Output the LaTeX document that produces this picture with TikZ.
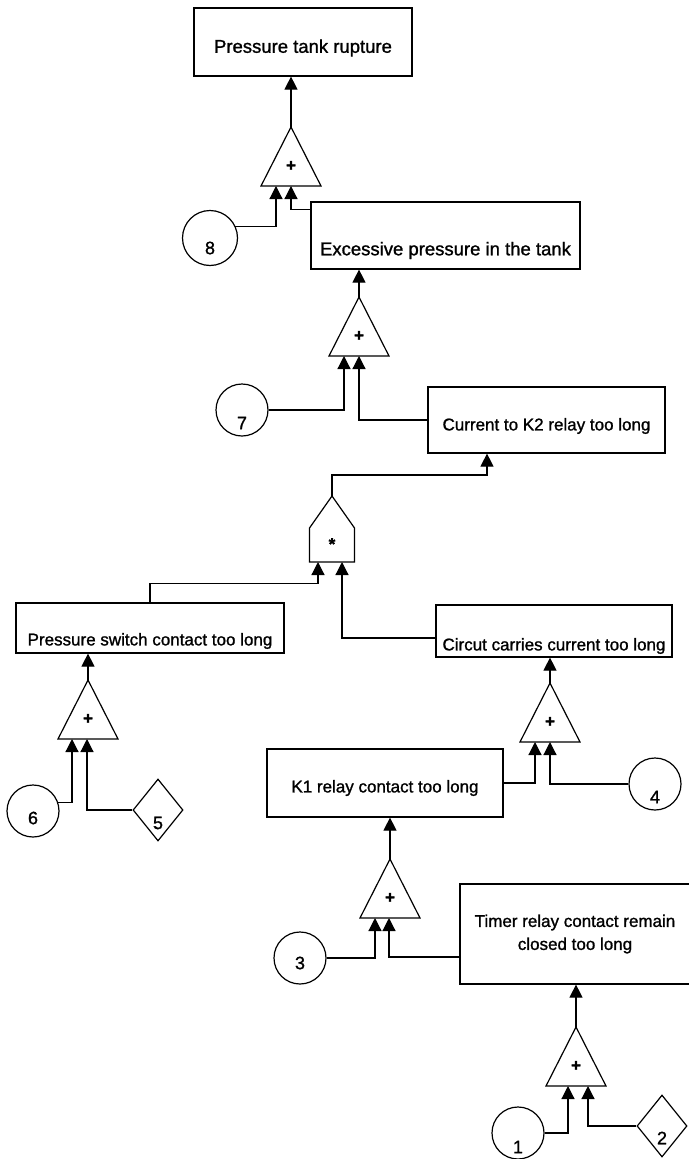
\documentclass[tikz,border=0pt]{standalone}
\usepackage{fontspec}
\setmainfont[FakeBold=1.5]{Liberation Sans}
\newfontfamily\heavysans[FakeBold=1.2]{Liberation Sans}
\usetikzlibrary{arrows.meta,shapes.geometric}

\tikzset{
  wire/.style={line width=1.2pt, line join=miter},
  feed/.style={wire, -{Triangle[width=13pt,length=13pt]}},
  evt/.style={draw, wire, rectangle, inner sep=0pt},
  evtxt/.style={font=\heavysans\fontsize{17}{23}\selectfont, align=center, inner sep=0pt},
  bigtxt/.style={font=\heavysans\fontsize{18.5}{23}\selectfont, inner sep=0pt},
  basic/.style={draw, wire, circle, inner sep=0pt, minimum size=52pt},
  undev/.style={draw, wire, diamond, inner sep=0pt, minimum width=50pt, minimum height=62pt},
  numtxt/.style={font=\heavysans\fontsize{18}{20}\selectfont, inner sep=0pt},
  gsym/.style={font=\bfseries\fontsize{17}{17}\selectfont, inner sep=0pt},
  pics/orgate/.style n args={2}{code={
      \draw[wire] (0,0) -- (-30,59) -- (30,59) -- cycle;
      \node[gsym] at (0,39) {+};
      \coordinate (-out) at (0,0);
      \coordinate (-in1) at (#1,59);
      \coordinate (-in2) at (#2,59);
  }},
  pics/andgate/.style n args={2}{code={
      \draw[wire] (0,0) -- (22.5,32) -- (22.5,66) -- (-22.5,66) -- (-22.5,32) -- cycle;
      \node[gsym] at (0,48) {*};
      \coordinate (-out) at (0,0);
      \coordinate (-in1) at (#1,66);
      \coordinate (-in2) at (#2,66);
  }},
}

\begin{document}
\begin{tikzpicture}[x=1pt, y=-1pt]
\useasboundingbox (0,0) rectangle (688,1159);

% events
\node[evt, minimum width=218pt, minimum height=68pt,
      label={[bigtxt, yshift=-6pt]center:Pressure tank rupture}] (b1) at (303,42) {};
\node[evt, minimum width=269pt, minimum height=67pt,
      label={[bigtxt, yshift=-15pt]center:Excessive pressure in the tank}] (b2) at (445.5,235.5) {};
\node[evt, minimum width=237pt, minimum height=66pt,
      label={[evtxt, yshift=-6pt]center:Current to K2 relay too long}] (b3) at (546.5,420) {};
\node[evt, minimum width=268pt, minimum height=50pt,
      label={[evtxt, yshift=-13pt]center:Pressure switch contact too long}] (b4) at (150,628) {};
\node[evt, minimum width=236pt, minimum height=52pt,
      label={[evtxt, yshift=-15pt]center:Circut carries current too long}] (b5) at (554,631) {};
\node[evt, minimum width=236pt, minimum height=68pt,
      label={[evtxt, yshift=-5pt]center:K1 relay contact too long}] (b6) at (385,783) {};
\node[evt, minimum width=230pt, minimum height=100pt,
      label={[evtxt]center:{Timer relay contact remain\\closed too long}}] (b7) at (575,934) {};

% basic events
\node[basic, minimum size=55pt, label={[numtxt, yshift=-10pt]center:8}] (c8) at (210,238) {};
\node[basic, label={[numtxt, yshift=-13pt]center:7}] (c7) at (242,410) {};
\node[basic, label={[numtxt, yshift=-7pt]center:6}] (c6) at (33,811) {};
\node[basic, label={[numtxt, yshift=-13pt]center:4}] (c4) at (655,784) {};
\node[basic, label={[numtxt, yshift=-5pt]center:3}] (c3) at (300,958) {};
\node[basic, label={[numtxt, yshift=-14pt]center:1}] (c1) at (518,1133) {};

% undeveloped events
\node[undev, label={[numtxt, yshift=-13pt]center:5}] (d5) at (158,810) {};
\node[undev, label={[numtxt, yshift=-12pt]center:2}] (d2) at (662,1126) {};

% gates
\pic (g1) at (291,127) {orgate={-15}{0}};
\pic (g2) at (359,297) {orgate={-15}{0}};
\pic (a1) at (332,496) {andgate={-14}{10}};
\pic (g4) at (88,680) {orgate={-16}{-1}};
\pic (g5) at (550,683) {orgate={-15}{0}};
\pic (g6) at (390,859) {orgate={-15}{-1}};
\pic (g7) at (576,1027) {orgate={-8}{12}};

\coordinate (b3in) at ([xshift=-59.5pt]b3.south);

% gate outputs
\draw[feed] (g1-out) -- (g1-out |- b1.south);
\draw[feed] (g2-out) -- (g2-out |- b2.south);
\draw[feed] (a1-out) -- ++(0,-21) -| (b3in);
\draw[feed] (g4-out) -- (g4-out |- b4.south);
\draw[feed] (g5-out) -- (g5-out |- b5.south);
\draw[feed] (g6-out) -- (g6-out |- b6.south);
\draw[feed] (g7-out) -- (g7-out |- b7.south);

% gate inputs
\draw[feed] (c8.25) -| (g1-in1);
\draw[feed] ([yshift=-8pt]b2.north west) -| (g1-in2);
\draw[feed] (c7.east) -| (g2-in1);
\draw[feed] (b3.west) -| (g2-in2);
\draw[feed] (b4.north) -- ++(0,-19) -| (a1-in1);
\draw[feed] ([yshift=-7pt]b5.west) -| (a1-in2);
\draw[feed] (c6.18) -| (g4-in1);
\draw[feed] (d5.west) -| (g4-in2);
\draw[feed] (b6.east) -| (g5-in1);
\draw[feed] (c4.west) -| (g5-in2);
\draw[feed] (c3.east) -| (g6-in1);
\draw[feed] ([yshift=-23pt]b7.west) -| (g6-in2);
\draw[feed] (c1.east) -| (g7-in1);
\draw[feed] (d2.west) -| (g7-in2);
\end{tikzpicture}
\end{document}
